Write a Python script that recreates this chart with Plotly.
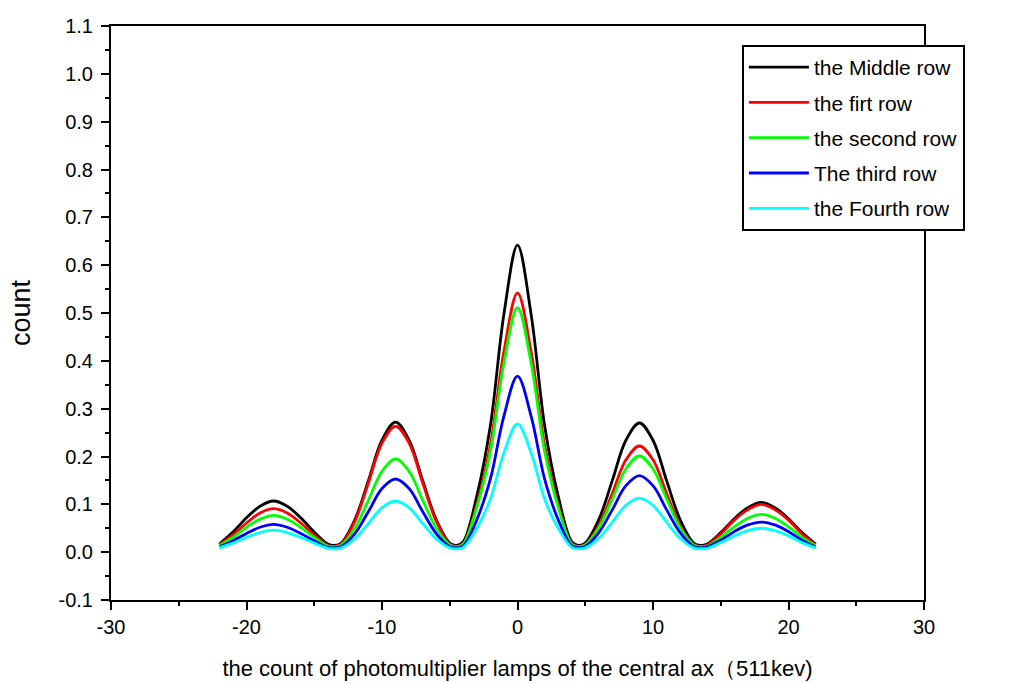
import plotly.graph_objects as go

x_vals = [-22, -21, -20, -19, -18, -17, -16, -15, -14, -13.5,
          -13, -12, -11, -10, -9, -8, -7, -6, -5, -4.5,
          -4, -3, -2, -1, 0, 1, 2, 3, 4, 4.5,
          5, 6, 7, 8, 9, 10, 11, 12, 13, 13.5,
          14, 15, 16, 17, 18, 19, 20, 21, 22]

middle_row = [0.017, 0.042, 0.072, 0.096, 0.107, 0.096, 0.072, 0.042, 0.017, 0.014,
              0.019, 0.068, 0.150, 0.234, 0.272, 0.234, 0.150, 0.068, 0.019, 0.014,
              0.022, 0.118, 0.265, 0.498, 0.642, 0.498, 0.265, 0.118, 0.022, 0.014,
              0.019, 0.068, 0.150, 0.234, 0.270, 0.234, 0.150, 0.068, 0.019, 0.014,
              0.017, 0.041, 0.070, 0.093, 0.104, 0.093, 0.070, 0.041, 0.017]

first_row = [0.015, 0.036, 0.061, 0.082, 0.091, 0.082, 0.061, 0.036, 0.014, 0.012,
             0.017, 0.065, 0.145, 0.228, 0.263, 0.228, 0.145, 0.065, 0.017, 0.012,
             0.018, 0.100, 0.224, 0.420, 0.542, 0.420, 0.224, 0.100, 0.018, 0.012,
             0.016, 0.056, 0.123, 0.193, 0.222, 0.193, 0.123, 0.056, 0.016, 0.012,
             0.015, 0.038, 0.067, 0.089, 0.100, 0.089, 0.067, 0.038, 0.016]

second_row = [0.014, 0.031, 0.052, 0.069, 0.077, 0.069, 0.052, 0.031, 0.013, 0.011,
              0.015, 0.050, 0.109, 0.169, 0.195, 0.169, 0.109, 0.050, 0.015, 0.011,
              0.017, 0.094, 0.211, 0.396, 0.511, 0.396, 0.211, 0.094, 0.017, 0.011,
              0.015, 0.051, 0.112, 0.174, 0.201, 0.174, 0.112, 0.051, 0.015, 0.011,
              0.013, 0.031, 0.053, 0.071, 0.079, 0.071, 0.053, 0.031, 0.014]

third_row = [0.011, 0.024, 0.039, 0.052, 0.058, 0.052, 0.039, 0.024, 0.010, 0.009,
             0.012, 0.039, 0.085, 0.133, 0.153, 0.133, 0.085, 0.039, 0.012, 0.009,
             0.013, 0.068, 0.153, 0.285, 0.368, 0.285, 0.153, 0.068, 0.013, 0.009,
             0.012, 0.041, 0.089, 0.139, 0.160, 0.139, 0.089, 0.041, 0.012, 0.009,
             0.011, 0.025, 0.043, 0.057, 0.063, 0.057, 0.043, 0.025, 0.011]

fourth_row = [0.009, 0.019, 0.031, 0.041, 0.046, 0.041, 0.031, 0.019, 0.008, 0.007,
              0.009, 0.028, 0.060, 0.093, 0.107, 0.093, 0.060, 0.028, 0.009, 0.007,
              0.010, 0.050, 0.111, 0.208, 0.268, 0.208, 0.111, 0.050, 0.010, 0.007,
              0.009, 0.029, 0.063, 0.098, 0.113, 0.098, 0.063, 0.029, 0.009, 0.007,
              0.008, 0.020, 0.034, 0.045, 0.050, 0.045, 0.034, 0.020, 0.009]

series_names = ["the Middle row", "the firt row", "the second row",
                "The third row", "the Fourth row"]
series_values = [middle_row, first_row, second_row, third_row, fourth_row]
series_colors = ["#000000", "#ff0000", "#00ff00", "#0000ff", "#00ffff"]

x_tick_vals = [-30, -20, -10, 0, 10, 20, 30]
x_tick_text = ["-30", "-20", "-10", "0", "10", "20", "30"]
y_tick_vals = [-0.1, 0.0, 0.1, 0.2, 0.3, 0.4, 0.5, 0.6, 0.7, 0.8, 0.9, 1.0, 1.1]
y_tick_text = ["-0.1", "0.0", "0.1", "0.2", "0.3", "0.4", "0.5", "0.6",
               "0.7", "0.8", "0.9", "1.0", "1.1"]

fig = go.Figure()
for name, vals, col in zip(series_names, series_values, series_colors):
    fig.add_trace(go.Scatter(
        x=x_vals, y=vals, mode="lines", name=name, legendgroup=name,
        line=dict(color=col, width=2.8, shape="spline", smoothing=1.0),
    ))

font_family = "Liberation Sans, Arial, sans-serif"

fig.update_layout(
    width=1027, height=683,
    margin=dict(l=111, r=103, t=26, b=83),
    paper_bgcolor="white", plot_bgcolor="white",
    font=dict(family=font_family, color="black", size=20),
    showlegend=True,
    legend=dict(
        x=0.776, y=0.967, xanchor="left", yanchor="top",
        bgcolor="white", bordercolor="black", borderwidth=2,
        font=dict(family=font_family, size=21, color="black"),
        tracegroupgap=5, itemwidth=60,
    ),
    xaxis=dict(
        range=[-30, 30], tickvals=x_tick_vals, ticktext=x_tick_text,
        automargin=False,
        showgrid=False, zeroline=False,
        showline=True, linecolor="black", linewidth=2, mirror=True,
        ticks="outside", ticklen=8, tickwidth=2, tickcolor="black",
        tickfont=dict(size=20),
        minor=dict(dtick=5, tick0=0, ticks="outside", ticklen=4, tickwidth=2,
                   tickcolor="black", showgrid=False),
        title=dict(text="the count of photomultiplier lamps of the central ax（511kev)",
                   font=dict(size=22), standoff=24),
    ),
    yaxis=dict(
        range=[-0.1, 1.1], tickvals=y_tick_vals, ticktext=y_tick_text,
        automargin=False,
        showgrid=False, zeroline=False,
        showline=True, linecolor="black", linewidth=2, mirror=True,
        ticks="outside", ticklen=8, tickwidth=2, tickcolor="black",
        tickfont=dict(size=20), ticklabelstandoff=4,
        minor=dict(dtick=0.05, tick0=0, ticks="outside", ticklen=4, tickwidth=2,
                   tickcolor="black", showgrid=False),
        title=dict(text="count", font=dict(size=27), standoff=20),
    ),
)

fig.write_html("out.html")
